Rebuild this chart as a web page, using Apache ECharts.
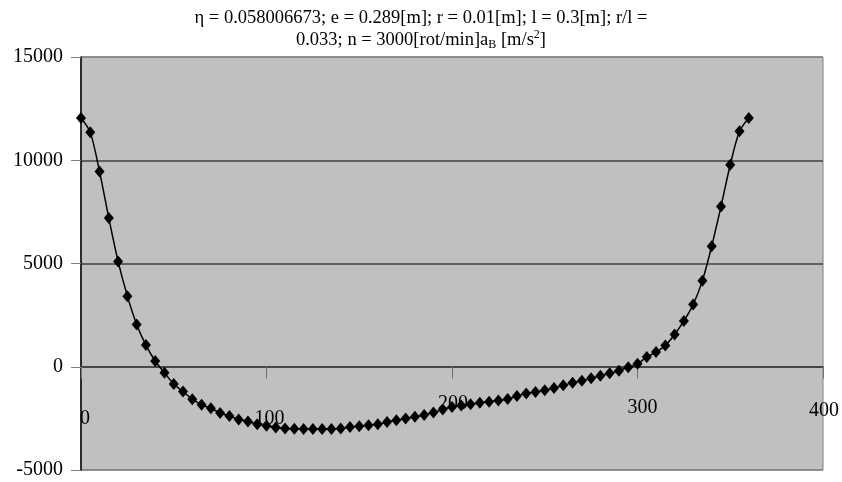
<!DOCTYPE html>
<html>
<head>
<meta charset="utf-8">
<script src="https://cdn.jsdelivr.net/npm/echarts@6/dist/echarts.min.js"></script>
<style>
html,body{margin:0;padding:0;background:#fff;}
#c{width:842px;height:482px;}
</style>
</head>
<body>
<div id="c"></div>
<script>
// crank angle [deg]
const angles = [0,5,10,15,20,25,30,35,40,45,50,55,60,65,70,75,80,85,90,95,100,105,110,115,120,125,130,135,140,145,150,155,160,165,170,175,180,185,190,195,200,205,210,215,220,225,230,235,240,245,250,255,260,265,270,275,280,285,290,295,300,305,310,315,320,325,330,335,340,345,350,355,360];
// acceleration a_B [m/s^2]
const accel = [12050,11350,9450,7200,5100,3420,2050,1050,280,-290,-840,-1200,-1570,-1840,-2010,-2240,-2390,-2550,-2650,-2780,-2860,-2940,-2990,-3000,-3010,-3020,-3020,-3010,-2990,-2920,-2880,-2830,-2780,-2680,-2590,-2500,-2420,-2340,-2210,-2070,-1950,-1880,-1810,-1740,-1690,-1640,-1560,-1420,-1290,-1220,-1140,-1030,-900,-780,-680,-560,-440,-320,-190,-20,140,470,710,1030,1560,2220,3010,4170,5840,7760,9780,11400,12050];
const xTicks = [0,100,200,300,400];
const yTicks = [-5000,0,5000,10000,15000];

const serif = '"Liberation Serif","Times New Roman",serif';
const chart = echarts.init(document.getElementById('c'), null, {renderer:'canvas'});
const pts = angles.map((a,i)=>[a,accel[i]]);
// per-label offsets [top,left] to mimic the reference placement
const xLabelPad = {0:[14,8],100:[14,6],200:[-1,2],300:[3,10],400:[6,2]};
const rich = {};
xTicks.forEach(v=>{ rich['l'+v] = {fontFamily:serif,fontSize:20,color:'#000',padding:[xLabelPad[v][0],0,0,xLabelPad[v][1]]}; });

chart.setOption({
  animation:false,
  backgroundColor:'#ffffff',
  title:{
    left:'center', top:2,
    text:'{t|η = 0.058006673; e = 0.289[m]; r = 0.01[m]; l = 0.3[m]; r/l =}\n{t|0.033; n = 3000[rot/min]a}{sub|B}{t| [m/s}{sup|2}{t|]}',
    textStyle:{
      fontFamily:serif, fontSize:18.5, fontWeight:'normal', color:'#000',
      rich:{
        t:{fontFamily:serif,fontSize:18.5,color:'#000',lineHeight:22},
        sub:{fontFamily:serif,fontSize:12,color:'#000',verticalAlign:'bottom',lineHeight:22,padding:[6,0,0,0]},
        sup:{fontFamily:serif,fontSize:12,color:'#000',verticalAlign:'top',lineHeight:22,padding:[0,0,8,0]}
      }
    }
  },
  grid:{left:81,right:19,top:57,bottom:12,show:true,backgroundColor:'#c0c0c0',borderColor:'#808080',borderWidth:1,containLabel:false,outerBoundsMode:'none'},
  xAxis:{
    type:'value', min:0, max:400, interval:100,
    axisLine:{onZero:true,lineStyle:{color:'#404040',width:1.5}},
    axisTick:{show:true,length:12,lineStyle:{color:'#707070',width:1}},
    splitLine:{show:false},
    axisLabel:{
      margin:-75,
      formatter:(v)=>'{l'+v+'|'+v+'}',
      rich:rich
    }
  },
  yAxis:{
    type:'value', min:-5000, max:15000, interval:5000,
    axisLine:{show:true,onZero:false,lineStyle:{color:'#000',width:1.5}},
    axisTick:{show:true,length:10,lineStyle:{color:'#808080'}},
    splitLine:{show:true,lineStyle:{color:['#808080','#404040','#404040','#404040','#808080'],width:1.5}},
    axisLabel:{margin:18,fontFamily:serif,fontSize:20,color:'#000',formatter:(v)=>String(v)}
  },
  series:[{
    type:'line',
    data:pts,
    smooth:0.3,
    symbol:'diamond',
    symbolSize:[10,12],
    itemStyle:{color:'#000'},
    lineStyle:{color:'#000',width:1.5},
    z:5
  }]
});
</script>
</body>
</html>
